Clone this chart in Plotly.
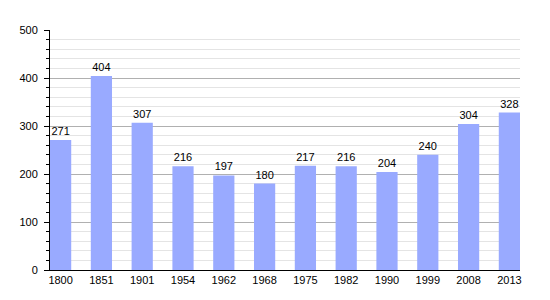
import plotly.graph_objects as go

years = ["1800", "1851", "1901", "1954", "1962", "1968", "1975", "1982", "1990", "1999", "2008", "2013"]
population = [271, 404, 307, 216, 197, 180, 217, 216, 204, 240, 304, 328]

fig = go.Figure()
fig.add_trace(go.Bar(
    x=years, y=population,
    text=[str(v) for v in population],
    textposition="outside",
    textfont=dict(family="Liberation Sans, Arial", size=11, color="black"),
    marker=dict(color="#99aaff", line=dict(width=0)),
    width=0.52,
    cliponaxis=False,
))
fig.update_layout(
    width=550, height=300,
    margin=dict(l=50, r=30, t=30, b=30),
    plot_bgcolor="white", paper_bgcolor="white",
    showlegend=False,
    font=dict(family="Liberation Sans, Arial", size=11, color="black"),
    bargap=0.48,
)
fig.update_xaxes(
    type="category",
    range=[-0.26, 11.26],
    showline=True, linecolor="black", linewidth=1,
    ticks="", showgrid=False,
    tickfont=dict(size=11),
)
fig.update_yaxes(
    range=[0, 500],
    tickvals=[0, 100, 200, 300, 400, 500],
    showline=True, linecolor="black", linewidth=1,
    ticks="outside", ticklen=5, tickcolor="black",
    ticklabelstandoff=4,
    showgrid=True, gridcolor="#b0b0b0", gridwidth=1,
    zeroline=False,
    minor=dict(dtick=20, showgrid=True, gridcolor="#e4e4e4", ticks="outside", ticklen=3, tickcolor="black"),
    tickfont=dict(size=11),
)
fig.write_html("out.html")
